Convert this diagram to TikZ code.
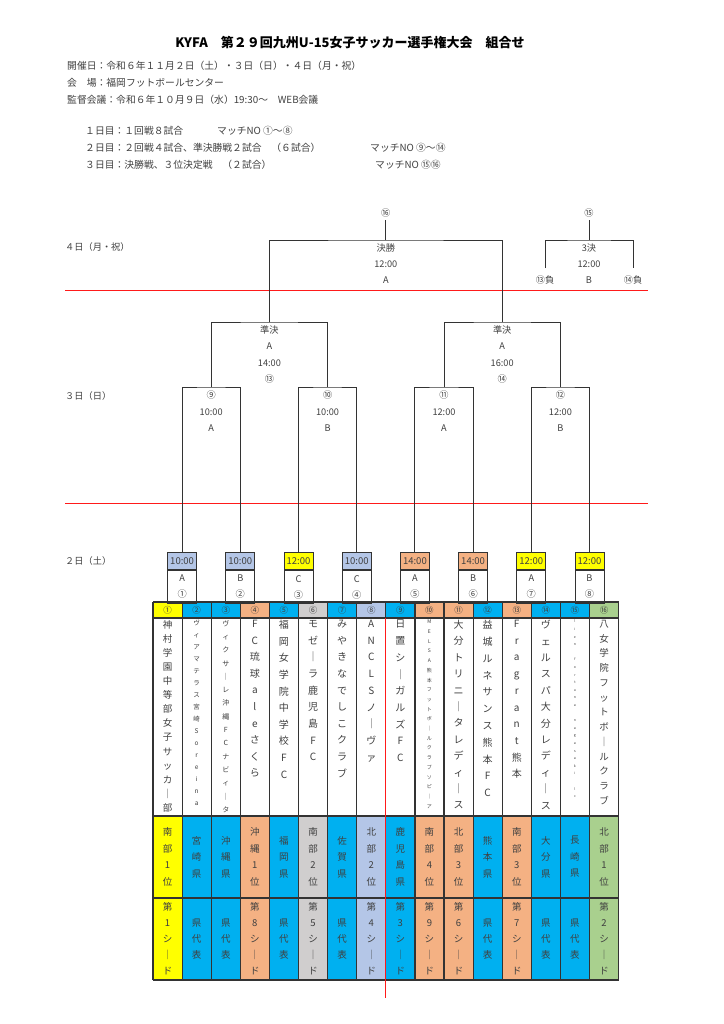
\documentclass[tikz,border=0pt]{standalone}
\usepackage{fontspec}
\setmainfont{Noto Sans CJK JP}
\usetikzlibrary{positioning}
\definecolor{seedyellow}{HTML}{FFFF00}
\definecolor{prefblue}{HTML}{00B0F0}
\definecolor{seedorange}{HTML}{F4B183}
\definecolor{seedgrey}{HTML}{D0CECE}
\definecolor{seedlav}{HTML}{B4C6E7}
\definecolor{seedgreen}{HTML}{A9D08E}
\definecolor{txtgrey}{HTML}{404040}
\definecolor{cutred}{HTML}{FF1A1A}

\ExplSyntaxOn
\NewDocumentCommand\tate{O{9.5}mm}{
  \fontsize{#1}{#2}\selectfont
  \tl_set:No \l_tmpa_tl {#3}
  \tl_map_inline:Nn \l_tmpa_tl {##1\par}
}
\ExplSyntaxOff

\tikzset{
  every node/.style={text=txtgrey},
  infotext/.style={anchor=west, inner sep=0pt, font=\fontsize{9.8}{12}\selectfont},
  daylabel/.style={anchor=west, inner sep=0pt, font=\fontsize{9.2}{11}\selectfont},
  bracketlabel/.style={inner sep=0pt, font=\fontsize{9.2}{11}\selectfont},
  bracket/.style={draw=black!80, line width=1pt},
  cutline/.style={draw=cutred, line width=1.3pt},
  tablerule/.style={draw=black!80, line width=1.2pt},
  headnum/.style={inner sep=0pt, font=\fontsize{8.5}{10}\selectfont},
  timecell/.style={draw=black!80, line width=1pt, anchor=north, minimum width=29pt,
    minimum height=17pt, inner sep=0pt, font=\fontsize{9.5}{11}\selectfont},
  courtcell/.style={draw=black!80, line width=1pt, minimum width=29pt, minimum height=33pt,
    inner sep=0pt, align=center, font=\fontsize{9.2}{16}\selectfont},
  teamname/.style={anchor=north, text width=28pt, align=center, inner sep=0pt},
  stackcell/.style={text width=28pt, align=center, inner sep=0pt},
}

\begin{document}
\begin{tikzpicture}[x=1pt,y=-1pt]
  \useasboundingbox[fill=white] (0,0) rectangle (723,1024);

  % heading
  \node[font=\bfseries\fontsize{13}{15}\selectfont, text=black] (title) at (350,43)
    {KYFA　第２９回九州U-15女子サッカー選手権大会　組合せ};
  \node[infotext] (held) at (67,66) {開催日：令和６年１１月２日（土）・３日（日）・４日（月・祝）};
  \node[infotext] (venue) at (67,83) {会　場：福岡フットボールセンター};
  \node[infotext] (meeting) at (67,100) {監督会議：令和６年１０月９日（水）19:30～　WEB会議};
  \node[infotext] (plan1) at (85,131) {１日目：１回戦８試合};
  \node[infotext] (match1) at (217,131) {マッチNO ①～⑧};
  \node[infotext] (plan2) at (85,148) {２日目：２回戦４試合、準決勝戦２試合　（６試合）};
  \node[infotext] (match2) at (370,148) {マッチNO ⑨～⑭};
  \node[infotext] (plan3) at (85,165) {３日目：決勝戦、３位決定戦　（２試合）};
  \node[infotext] (match3) at (375,165) {マッチNO ⑮⑯};

  % days
  \node[daylabel] (day4) at (65,247) {４日（月・祝）};
  \node[daylabel] (day3) at (65,396) {３日（日）};
  \node[daylabel] (day2) at (65,561) {２日（土）};
  \draw[cutline] (65,290.5) -- (648,290.5);
  \draw[cutline] (65,503.5) -- (648,503.5);

  % team table
  \foreach \i/\col/\num in {1/seedyellow/①,2/prefblue/②,3/prefblue/③,4/seedorange/④,
      5/prefblue/⑤,6/seedgrey/⑥,7/prefblue/⑦,8/seedlav/⑧,9/prefblue/⑨,10/seedorange/⑩,
      11/seedorange/⑪,12/prefblue/⑫,13/seedorange/⑬,14/prefblue/⑭,15/prefblue/⑮,16/seedgreen/⑯}{
    \pgfmathsetmacro\xl{153+29.1*(\i-1)}
    \fill[\col] (\xl,602) rectangle ++(29.1,16);
    \fill[\col] (\xl,816) rectangle ++(29.1,164);
    \node[headnum] (head\i) at ({\xl+14.55},610) {\num};
  }
  \foreach \i/\fs/\pitch/\name in {1/9.5/14.1/神村学園中等部女子サッカ｜部,
      2/6.5/12/ヴィアマテラス宮崎Soreina,3/7/13.3/ヴィクサ｜レ沖縄FCナビィ｜タ,
      4/10/16.6/FC琉球aleさくら,5/10/16.6/福岡女学院中学校FC,6/10/16.7/モゼ｜ラ鹿児島FC,
      7/10/16.6/みやきなでしこクラブ,8/10/16.7/ANCLSノ｜ヴァ,9/10/16.7/日置シ｜ガルズFC,
      10/5/9.7/MELSA熊本フットボ｜ルクラブソピ｜ア,11/10/16.4/大分トリニ｜タレディ｜ス,
      12/10/16.8/益城ルネサンス熊本FC,13/10/16.7/Fragrant熊本,14/10/16.4/ヴェルスパ大分レディ｜ス,
      15/3.5/7.6/lien~fortuna~nagasaki~lc,16/9.5/14.75/八女学院フットボ｜ルクラブ}{
    \node[teamname] (team\i) at ({153+29.1*(\i-0.5)},620) {\tate[\fs]{\pitch}{\name}};
  }
  \foreach \i/\reg/\seed in {1/南部1位/第1シ｜ド,2/宮崎県/県代表,3/沖縄県/県代表,
      4/沖縄1位/第8シ｜ド,5/福岡県/県代表,6/南部2位/第5シ｜ド,7/佐賀県/県代表,
      8/北部2位/第4シ｜ド,9/鹿児島県/第3シ｜ド,10/南部4位/第9シ｜ド,11/北部3位/第6シ｜ド,
      12/熊本県/県代表,13/南部3位/第7シ｜ド,14/大分県/県代表,15/長崎県/県代表,16/北部1位/第2シ｜ド}{
    \pgfmathsetmacro\xc{153+29.1*(\i-0.5)}
    \node[stackcell] (pref\i) at (\xc,857) {\tate[9.5]{16.5}{\reg}};
    \node[stackcell] (seed\i) at (\xc,939) {\tate[9.5]{16}{\seed}};
  }
  \foreach \y in {602,618,816,898,980}
    \draw[tablerule] (153,\y) -- (618.6,\y);
  \foreach \i in {0,...,16}
    \draw[tablerule] ({153+29.1*\i},602) -- ({153+29.1*\i},980);
  \draw[cutline] (385.8,618) -- (385.8,998);

  % first round
  \foreach \k/\tm/\ct/\nm/\col in {1/10:00/A/①/seedlav,2/10:00/B/②/seedlav,3/12:00/C/③/seedyellow,
      4/10:00/C/④/seedlav,5/14:00/A/⑤/seedorange,6/14:00/B/⑥/seedorange,
      7/12:00/A/⑦/seedyellow,8/12:00/B/⑧/seedyellow}{
    \node[timecell, fill=\col] (g\k) at ({153+29.1*(2*\k-1)},552) {\tm};
    \node[courtcell, below=0pt of g\k] (c\k) {\ct\\\nm};
  }

  % second round
  \foreach \q/\r/\tm/\ct in {1/⑨/10:00/A,2/⑩/10:00/B,3/⑪/12:00/A,4/⑫/12:00/B}{
    \pgfmathsetmacro\rx{153+29.1*(4*\q-2)}
    \coordinate (r\q) at (\rx,387);
    \node[bracketlabel] (rn\q) at (\rx,395) {\r};
    \node[bracketlabel] (rt\q) at (\rx,412) {\tm};
    \node[bracketlabel] (rc\q) at (\rx,428) {\ct};
  }
  \draw[bracket] (g1.north) |- (r1) -| (g2.north);
  \draw[bracket] (g3.north) |- (r2) -| (g4.north);
  \draw[bracket] (g5.north) |- (r3) -| (g6.north);
  \draw[bracket] (g7.north) |- (r4) -| (g8.north);

  % semi finals
  \foreach \p/\sx/\tm/\nm in {1/269.4/14:00/⑬,2/502.2/16:00/⑭}{
    \coordinate (sf\p) at (\sx,322);
    \node[bracketlabel] (sfa\p) at (\sx,330) {準決};
    \node[bracketlabel] (sfb\p) at (\sx,346) {A};
    \node[bracketlabel] (sfc\p) at (\sx,363) {\tm};
    \node[bracketlabel] (sfd\p) at (\sx,379) {\nm};
  }
  \draw[bracket] (r1) |- (sf1) -| (r2);
  \draw[bracket] (r3) |- (sf2) -| (r4);

  % final
  \coordinate (fin) at (385.8,240);
  \draw[bracket] (sf1) |- (fin) -| (sf2);
  \node[bracketlabel, inner sep=2.5pt] (finno) at (385.8,213) {⑯};
  \draw[bracket] (fin) -- (finno.south);
  \node[bracketlabel] (fina) at (385.8,248) {決勝};
  \node[bracketlabel] (finb) at (385.8,264) {12:00};
  \node[bracketlabel] (finc) at (385.8,280) {A};

  % third place
  \coordinate (thl) at (545,268);
  \coordinate (thr) at (633,268);
  \coordinate (thd) at (589,240);
  \draw[bracket] (thl) |- (thd) -| (thr);
  \node[bracketlabel, inner sep=2.5pt] (thno) at (589,213) {⑮};
  \draw[bracket] (thd) -- (thno.south);
  \node[bracketlabel] (tha) at (589,248) {3決};
  \node[bracketlabel] (thb) at (589,264) {12:00};
  \node[bracketlabel] (thc) at (589,280) {B};
  \node[bracketlabel] (thx) at (545,280) {⑬負};
  \node[bracketlabel] (thy) at (633,280) {⑭負};
\end{tikzpicture}
\end{document}
